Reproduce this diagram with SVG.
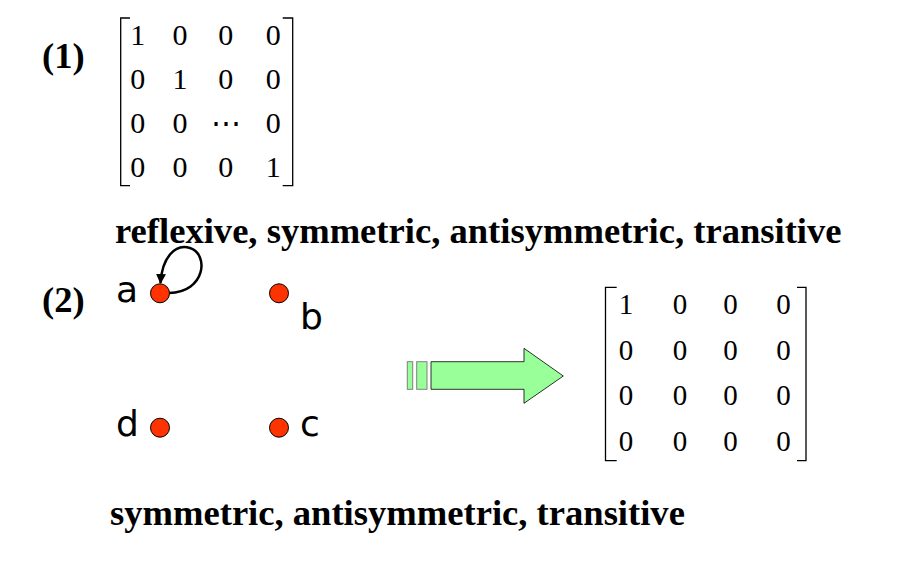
<svg xmlns="http://www.w3.org/2000/svg" width="919" height="561" viewBox="0 0 919 561">
<defs>
<style>
.num{font-family:"Liberation Serif","Times New Roman",serif;font-size:30px;fill:#000;text-anchor:middle}
.num2{font-family:"Liberation Serif","Times New Roman",serif;font-size:29px;fill:#000;text-anchor:middle}
.bold{font-family:"Liberation Serif","Times New Roman",serif;font-weight:bold;font-size:36.6px;fill:#000}
.lbl{font-family:"Comic Sans MS","DejaVu Sans","Liberation Sans",sans-serif;font-size:36px;fill:#000}
.br{fill:none;stroke:#000;stroke-width:1.3}
.node{fill:#FF3300;stroke:#000;stroke-width:1}
.edge{fill:none;stroke:#000;stroke-width:2.5}
</style>
<marker id="ah" viewBox="0 0 10 10" refX="9" refY="5" markerWidth="4" markerHeight="4" orient="auto" markerUnits="strokeWidth">
<path d="M0,0 L10,5 L0,10 z" fill="#000"/>
</marker>
</defs>
<rect width="919" height="561" fill="#fff"/>

<text class="bold" x="42" y="68">(1)</text>

<g id="matrix1">
<path class="br" d="M130,18 H120.7 V185.7 H130"/>
<path class="br" d="M282.7,18 H292.7 V185.7 H282.7"/>
<text class="num" x="137.7" y="45">1</text>
<text class="num" x="180" y="45">0</text>
<text class="num" x="225.7" y="45">0</text>
<text class="num" x="273.3" y="45">0</text>
<text class="num" x="137.7" y="89">0</text>
<text class="num" x="180" y="89">1</text>
<text class="num" x="225.7" y="89">0</text>
<text class="num" x="273.3" y="89">0</text>
<text class="num" x="137.7" y="133">0</text>
<text class="num" x="180" y="133">0</text>
<text class="num" x="225.7" y="133">⋯</text>
<text class="num" x="273.3" y="133">0</text>
<text class="num" x="137.7" y="177">0</text>
<text class="num" x="180" y="177">0</text>
<text class="num" x="225.7" y="177">0</text>
<text class="num" x="273.3" y="177">1</text>
</g>

<text class="bold" x="115" y="243">reflexive, symmetric, antisymmetric, transitive</text>

<text class="bold" x="42" y="312">(2)</text>

<g id="connectors">
<path class="edge" d="M169,293 C206,292 209,254 190,248 C175,243 162,258 160.5,283" marker-end="url(#ah)"/>
</g>

<g id="node-a"><circle class="node" cx="160" cy="293.3" r="9.5"/><text class="lbl" x="116" y="302">a</text></g>
<g id="node-b"><circle class="node" cx="279" cy="293.3" r="9.5"/><text class="lbl" x="300" y="329">b</text></g>
<g id="node-c"><circle class="node" cx="279" cy="427.7" r="9.5"/><text class="lbl" x="300" y="436">c</text></g>
<g id="node-d"><circle class="node" cx="160" cy="427.7" r="9.5"/><text class="lbl" x="116" y="436">d</text></g>

<g id="arrow">
<rect x="407.3" y="361.7" width="5.4" height="27.6" fill="#99FF99" stroke="#808080" stroke-width="1"/>
<rect x="416.7" y="361.7" width="10.3" height="27.6" fill="#99FF99" stroke="#808080" stroke-width="1"/>
<path d="M431,361.7 H524 V348.3 L563.3,376 L524,403.3 V389.3 H431 Z" fill="#99FF99" stroke="#000" stroke-width="0.8"/>
</g>

<g id="matrix2">
<path class="br" d="M616.7,287.3 H605.5 V460.7 H616.7"/>
<path class="br" d="M797,287.3 H806 V460.7 H797"/>
<text class="num2" x="626" y="314">1</text>
<text class="num2" x="680" y="314">0</text>
<text class="num2" x="730.5" y="314">0</text>
<text class="num2" x="783.5" y="314">0</text>
<text class="num2" x="626" y="359.5">0</text>
<text class="num2" x="680" y="359.5">0</text>
<text class="num2" x="730.5" y="359.5">0</text>
<text class="num2" x="783.5" y="359.5">0</text>
<text class="num2" x="626" y="405">0</text>
<text class="num2" x="680" y="405">0</text>
<text class="num2" x="730.5" y="405">0</text>
<text class="num2" x="783.5" y="405">0</text>
<text class="num2" x="626" y="450.5">0</text>
<text class="num2" x="680" y="450.5">0</text>
<text class="num2" x="730.5" y="450.5">0</text>
<text class="num2" x="783.5" y="450.5">0</text>
</g>

<text class="bold" x="110" y="525">symmetric, antisymmetric, transitive</text>
</svg>
